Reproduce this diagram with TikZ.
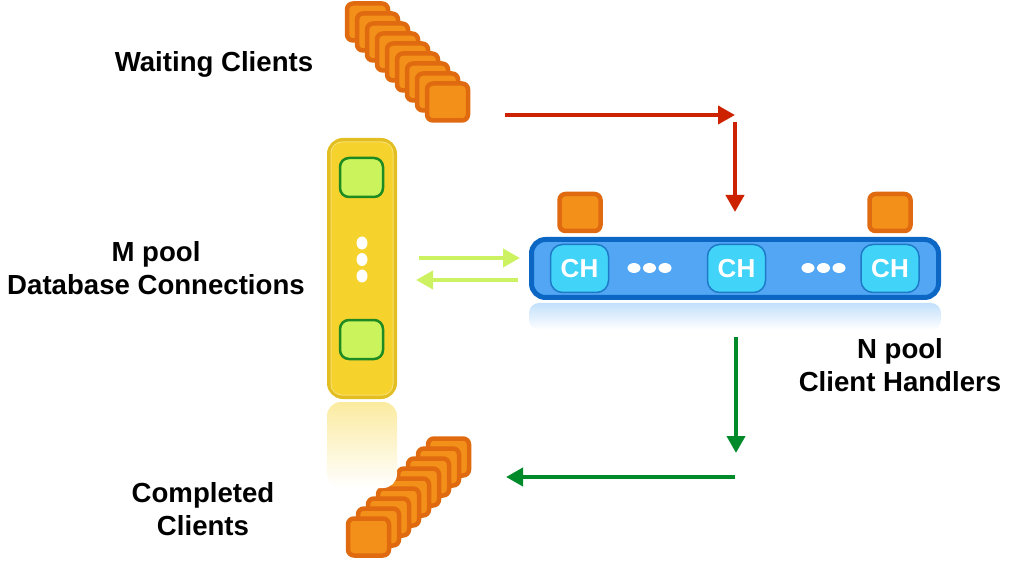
\documentclass[tikz,border=0pt]{standalone}
\usepackage{fontspec}
\setmainfont{Liberation Sans}
\usetikzlibrary{arrows.meta}
\definecolor{orfill}{HTML}{F39019}
\definecolor{ordraw}{HTML}{E06A10}
\definecolor{yefill}{HTML}{F6D22C}
\definecolor{yedraw}{HTML}{E2BE22}
\definecolor{grfill}{HTML}{CBF45C}
\definecolor{grdraw}{HTML}{1E8A22}
\definecolor{blfill}{HTML}{52A6F4}
\definecolor{bldraw}{HTML}{0B66C4}
\definecolor{chfill}{HTML}{42D4F8}
\definecolor{chdraw}{HTML}{1E7AC8}
\definecolor{redar}{HTML}{CC2200}
\definecolor{greenar}{HTML}{008A2A}
\definecolor{lgreenar}{HTML}{CCF262}
\begin{document}
\begin{tikzpicture}[x=1pt,y=-1pt,
  client/.style={draw=ordraw, fill=orfill, line width=4.5pt, rounded corners=6pt,
    minimum width=41pt, minimum height=37pt, inner sep=0pt},
  lbl/.style={font=\fontsize{27.6}{33}\selectfont\bfseries, align=center, inner sep=0pt},
  dbconn/.style={draw=grdraw, fill=grfill, line width=2.5pt, rounded corners=9pt,
    minimum width=43pt, minimum height=39pt, inner sep=0pt},
  chbox/.style={draw=chdraw, fill=chfill, line width=1.5pt, rounded corners=12pt,
    minimum width=58pt, minimum height=48pt, inner sep=0pt, text=white,
    font=\fontsize{26}{26}\selectfont\bfseries},
  redarrow/.style={draw=redar, line width=4pt, -{Triangle[length=17pt,width=18pt]}},
  greenarrow/.style={draw=greenar, line width=4pt, -{Triangle[length=17pt,width=18pt]}},
  lgarrow/.style={draw=lgreenar, line width=4pt, -{Triangle[length=17pt,width=18pt]}},
]
\useasboundingbox (0,0) rectangle (1018,564);

% labels
\node[lbl, anchor=base] (lwait) at (214,72) {Waiting Clients};
\node[lbl] (lmpool) at (156,268) {M pool\\Database Connections};
\node[lbl] (lnpool) at (900,365) {N pool\\Client Handlers};
\node[lbl] (lcomp) at (203,509) {Completed\\Clients};

% waiting clients stack
\foreach \i in {0,...,8} {
  \node[client] (w\i) at ({367.5+10*\i},{22+10*\i}) {};
}

% completed clients stack
\foreach \i in {0,...,8} {
  \node[client] (c\i) at ({448.5-10*\i},{457+10*\i}) {};
}

% yellow database pool + reflection
\shade[top color=yefill!45, bottom color=white, rounded corners=14pt]
  (327,402) rectangle (397,488);
\node[draw=yedraw, fill=yefill, line width=4pt, rounded corners=14pt,
  minimum width=66pt, minimum height=257pt, inner sep=0pt] (db) at (362,268.5) {};
\draw[yefill!70!white, line width=1pt, rounded corners=11pt] (331,142) rectangle (393,395);
\node[dbconn] (db1) at (361.5,177.5) {};
\node[dbconn] (db2) at (361.5,339.5) {};
\foreach \y [count=\k] in {243,259.5,276} {
  \fill[white] (362,\y) ellipse [x radius=5.5pt, y radius=6.5pt];
  \node[inner sep=0pt] (dbd\k) at (362,\y) {};
}

% blue client handler pool + reflection
\shade[top color=blfill!35, bottom color=white, rounded corners=10pt]
  (529,303) rectangle (941,330);
\node[draw=bldraw, fill=blfill, line width=5pt, rounded corners=14pt,
  minimum width=407pt, minimum height=58pt, inner sep=0pt] (ch) at (735,268.5) {};
\node[chbox] (ch1) at (579.5,268.5) {CH};
\node[chbox] (ch2) at (736.5,268.5) {CH};
\node[chbox] (ch3) at (890,268.5) {CH};
\foreach \x [count=\k] in {634,649.5,665,808,823.5,839} {
  \fill[white] (\x,268) ellipse [x radius=6.5pt, y radius=5pt];
  \node[inner sep=0pt] (chd\k) at (\x,268) {};
}

% clients being handled
\node[client] (a1) at (580,212.5) {};
\node[client] (a2) at (890,212.5) {};

% arrow end points
\coordinate (r1s) at (505,115);
\coordinate (r1e) at (735,115);
\coordinate (r2s) at (735,122);
\coordinate (r2e) at (735,212);
\coordinate (g1s) at (736,337);
\coordinate (g1e) at (736,453);
\coordinate (g2s) at (735,477);
\coordinate (g2e) at (506,477);
\coordinate (l1s) at (419,258);
\coordinate (l1e) at (520,258);
\coordinate (l2s) at (518,280);
\coordinate (l2e) at (416,280);

\draw[redarrow] (r1s) -- (r1e);
\draw[redarrow] (r2s) -- (r2e);
\draw[greenarrow] (g1s) -- (g1e);
\draw[greenarrow] (g2s) -- (g2e);
\draw[lgarrow] (l1s) -- (l1e);
\draw[lgarrow] (l2s) -- (l2e);
\end{tikzpicture}
\end{document}
